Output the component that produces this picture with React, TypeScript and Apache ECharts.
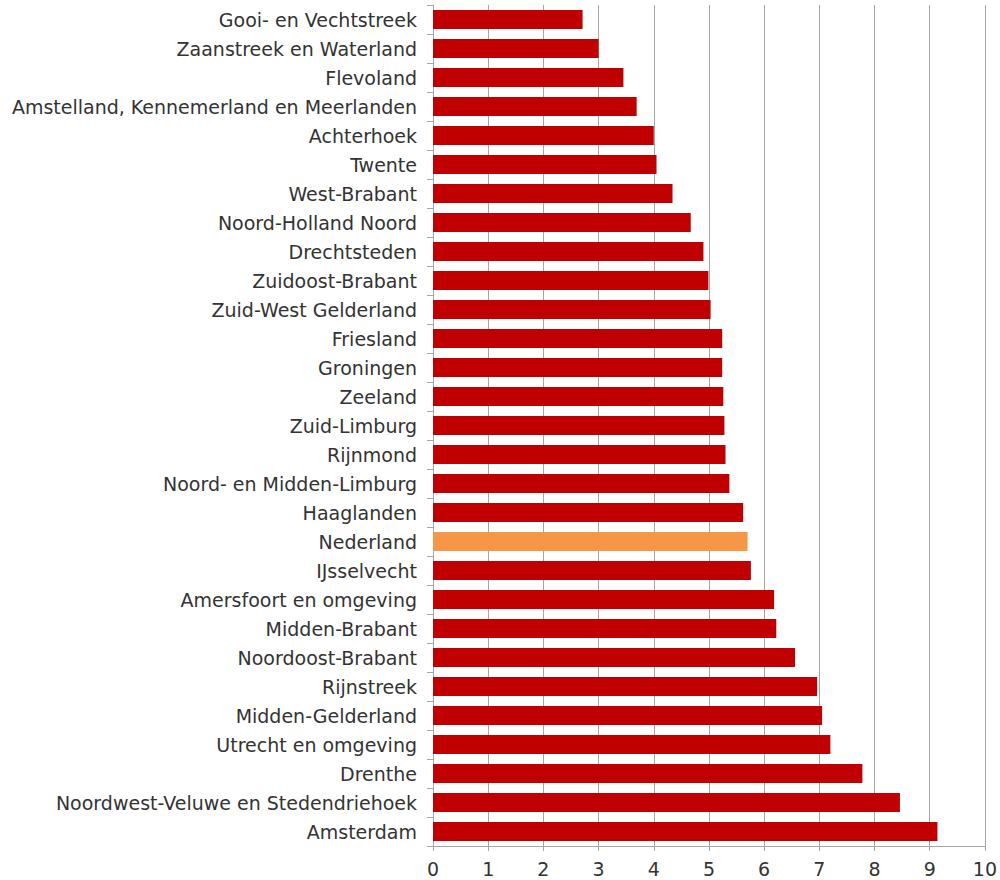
import React, { useEffect, useRef } from "react";
import * as echarts from "echarts";

const regions = [
  "Gooi- en Vechtstreek",
  "Zaanstreek en Waterland",
  "Flevoland",
  "Amstelland, Kennemerland en Meerlanden",
  "Achterhoek",
  "Twente",
  "West-Brabant",
  "Noord-Holland Noord",
  "Drechtsteden",
  "Zuidoost-Brabant",
  "Zuid-West Gelderland",
  "Friesland",
  "Groningen",
  "Zeeland",
  "Zuid-Limburg",
  "Rijnmond",
  "Noord- en Midden-Limburg",
  "Haaglanden",
  "Nederland",
  "IJsselvecht",
  "Amersfoort en omgeving",
  "Midden-Brabant",
  "Noordoost-Brabant",
  "Rijnstreek",
  "Midden-Gelderland",
  "Utrecht en omgeving",
  "Drenthe",
  "Noordwest-Veluwe en Stedendriehoek",
  "Amsterdam",
];

const values = [
  2.71, 3.0, 3.45, 3.69, 4.0, 4.05, 4.34, 4.67, 4.9, 4.99, 5.03, 5.24, 5.24, 5.26,
  5.28, 5.3, 5.37, 5.62, 5.7, 5.76, 6.18, 6.22, 6.56, 6.96, 7.05, 7.2, 7.78, 8.46, 9.14,
];

const highlight = "Nederland";
const xTicks = { min: 0, max: 10, interval: 1 };

export default function App() {
  const ref = useRef<HTMLDivElement>(null);
  useEffect(() => {
    if (!ref.current) return;
    const chart = echarts.init(ref.current, null, { renderer: "svg" });
    chart.setOption({
      animation: false,
      backgroundColor: "#ffffff",
      textStyle: { fontFamily: "DejaVu Sans" },
      grid: { left: 433, right: 14, top: 5, bottom: 34, containLabel: false },
      xAxis: {
        type: "value",
        min: xTicks.min,
        max: xTicks.max,
        interval: xTicks.interval,
        axisLine: { show: true, lineStyle: { color: "#a6a6a6", width: 1 } },
        axisTick: { show: true, length: 5, lineStyle: { color: "#a6a6a6" } },
        axisLabel: { color: "#333333", fontSize: 19, margin: 13, fontFamily: "DejaVu Sans" },
        splitLine: { show: true, lineStyle: { color: "#a6a6a6", width: 1 } },
      },
      yAxis: {
        type: "category",
        inverse: true,
        data: regions,
        axisLine: { show: true, lineStyle: { color: "#a6a6a6", width: 1 } },
        axisTick: { show: true, length: 6, lineStyle: { color: "#a6a6a6" } },
        axisLabel: { color: "#333333", fontSize: 19, margin: 16, fontFamily: "DejaVu Sans" },
      },
      series: [
        {
          type: "bar",
          data: values.map((v, i) => ({
            value: v,
            itemStyle: { color: regions[i] === highlight ? "#f79646" : "#c00000" },
          })),
          barCategoryGap: "35%",
        },
      ],
    });
    return () => chart.dispose();
  }, []);
  return (
    <div
      ref={ref}
      style={{ position: "fixed", left: 0, top: 0, width: 1000, height: 880 }}
    />
  );
}
